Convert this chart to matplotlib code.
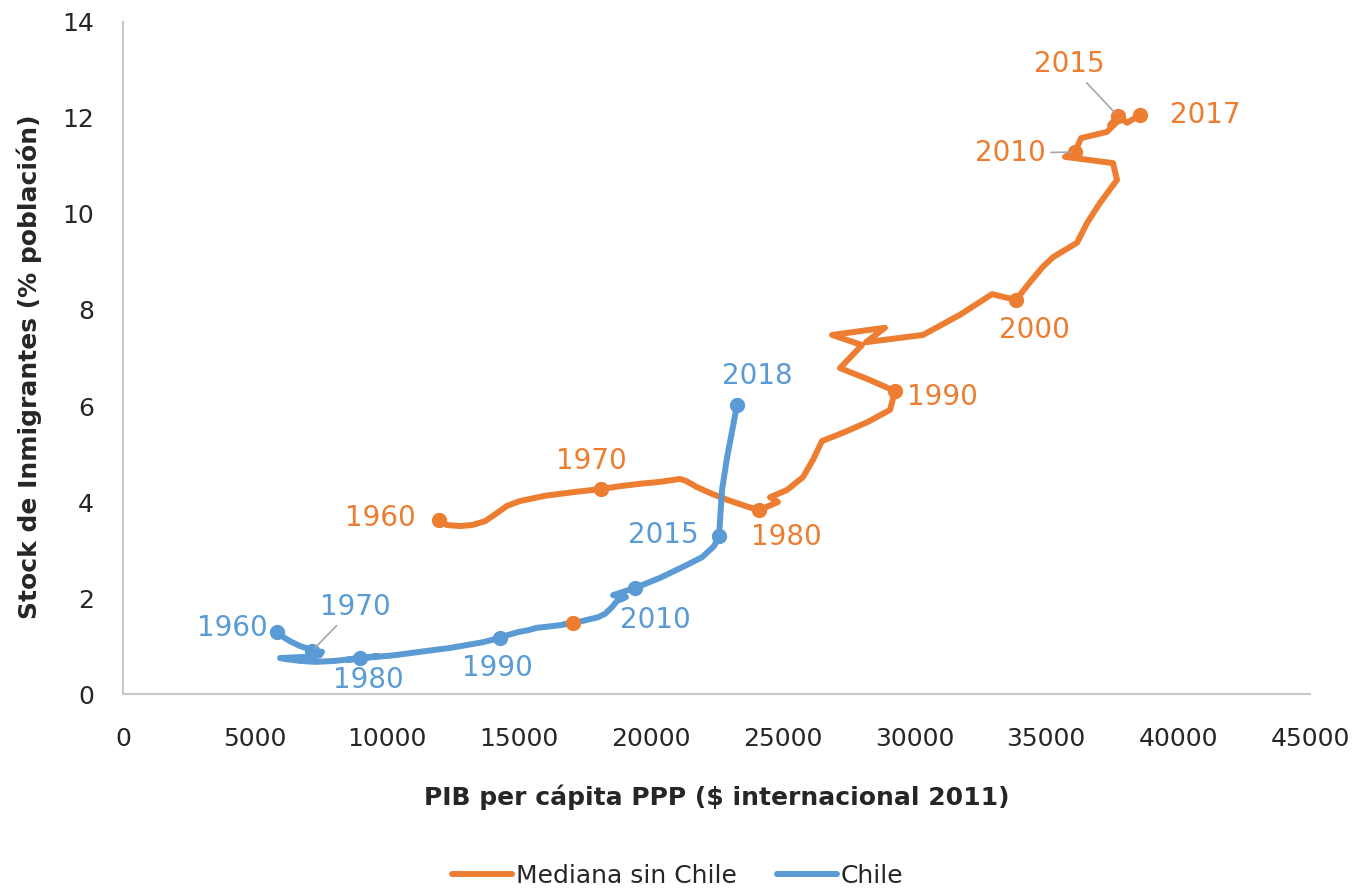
import matplotlib
matplotlib.use("Agg")
import matplotlib.pyplot as plt

# Mediana sin Chile, 1960-2017
med_years = list(range(1960, 2018))
med_gdp = [11980, 12283, 12776, 13231, 13723, 14178, 14557, 15050, 15998, 17135,
           18121, 18841, 19599, 20358, 21116, 21343, 21760, 22329, 22936, 23580,
           24111, 24831, 24528, 25172, 25779, 26158, 26499, 27371, 28243, 29077,
           29267, 28319, 27181, 28015, 26878, 28887, 28167, 30328, 31731, 32944,
           33854, 34384, 34839, 35256, 36166, 36545, 37038, 37683, 37531, 35711,
           36090, 36318, 37303, 37683, 37417, 37720, 38062, 38554]
med_stock = [3.63, 3.52, 3.50, 3.52, 3.60, 3.77, 3.92, 4.02, 4.13, 4.21,
             4.27, 4.33, 4.38, 4.42, 4.48, 4.44, 4.31, 4.17, 4.04, 3.92,
             3.83, 4.00, 4.10, 4.25, 4.52, 4.88, 5.27, 5.46, 5.67, 5.92,
             6.31, 6.54, 6.79, 7.27, 7.48, 7.63, 7.33, 7.48, 7.90, 8.33,
             8.21, 8.58, 8.88, 9.10, 9.40, 9.81, 10.23, 10.71, 11.06, 11.19,
             11.29, 11.58, 11.71, 11.92, 11.85, 12.04, 11.90, 12.06]

# Chile, 1960-2018
chl_years = list(range(1960, 2019))
chl_gdp = [5838, 6066, 6331, 6558, 6710, 6824, 6938, 7013, 7127, 7203,
           7165, 7544, 7468, 7013, 6710, 5952, 6141, 6710, 7279, 8037,
           8985, 9667, 8681, 8530, 9060, 9553, 10312, 11259, 12397, 13648,
           14292, 14595, 14974, 15354, 15695, 16036, 16339, 16642, 16832, 16756,
           17060, 17401, 17704, 18007, 18273, 18538, 18728, 18917, 19069, 18576,
           19410, 20358, 21305, 21950, 22405, 22594, 22708, 22898, 23277]
chl_stock = [1.29, 1.19, 1.10, 1.04, 1.00, 0.98, 0.96, 0.94, 0.92, 0.92,
             0.90, 0.88, 0.81, 0.77, 0.77, 0.75, 0.73, 0.69, 0.67, 0.69,
             0.75, 0.79, 0.73, 0.71, 0.75, 0.77, 0.81, 0.88, 0.96, 1.08,
             1.17, 1.23, 1.29, 1.33, 1.38, 1.40, 1.42, 1.44, 1.46, 1.46,
             1.48, 1.52, 1.56, 1.60, 1.67, 1.81, 1.94, 1.98, 2.02, 2.06,
             2.21, 2.42, 2.67, 2.85, 3.08, 3.29, 4.25, 4.92, 6.02]

# labelled years and label offsets (pixels)
med_marked = [1960, 1970, 1980, 1990, 2000, 2010, 2015, 2017]
med_offsets = [(-59, 2), (-10, 28), (27, -27), (47, -6), (18, -30), (-65, -1), (-49, 52), (65, 0)]
chl_marked = [1960, 1970, 1980, 1990, 2010, 2015, 2018]
chl_offsets = [(-45, 4), (43, 44), (8, -22), (-3, -30), (20, -32), (-56, 1), (20, 29)]
leader_years_med = [2010, 2015]
leader_years_chl = [1970]
extra_year = 2000  # Chile 2000 point drawn in orange

ORANGE = "#ED7D31"
BLUE = "#5B9BD5"

plt.rcParams["font.family"] = ["DejaVu Sans"]

fig = plt.figure(figsize=(13.55, 8.89), dpi=100)
ax = fig.add_axes([0.0908, 0.2193, 0.876, 0.756])

ax.plot(med_gdp, med_stock, color=ORANGE, lw=4.3, solid_joinstyle="round",
        solid_capstyle="round", label="Mediana sin Chile", zorder=2)
ax.plot(chl_gdp, chl_stock, color=BLUE, lw=4.3, solid_joinstyle="round",
        solid_capstyle="round", label="Chile", zorder=2)


def mark(years, xs, ys, marked, offsets, leaders, color):
    for yr, (dx, dy) in zip(marked, offsets):
        i = years.index(yr)
        ax.plot(xs[i], ys[i], "o", color=color, ms=10, zorder=3)
        arrow = None
        if yr in leaders:
            arrow = dict(arrowstyle="-", color="#A6A6A6", lw=1.2, shrinkA=2, shrinkB=3)
        ax.annotate(str(yr), (xs[i], ys[i]), xytext=(dx, dy), textcoords="offset pixels",
                    ha="center", va="center", color=color, fontsize=20,
                    arrowprops=arrow, zorder=4)


mark(med_years, med_gdp, med_stock, med_marked, med_offsets, leader_years_med, ORANGE)
mark(chl_years, chl_gdp, chl_stock, chl_marked, chl_offsets, leader_years_chl, BLUE)
i = chl_years.index(extra_year)
ax.plot(chl_gdp[i], chl_stock[i], "o", color=ORANGE, ms=10, zorder=3)

ax.set_xlim(0, 45000)
ax.set_ylim(0, 14)
ax.set_xticks(range(0, 45001, 5000))
ax.set_yticks(range(0, 15, 2))
ax.tick_params(length=0, labelsize=18, colors="#262626")
ax.tick_params(axis="x", pad=24)
ax.tick_params(axis="y", pad=21)
for s in ["top", "right"]:
    ax.spines[s].set_visible(False)
for s in ["left", "bottom"]:
    ax.spines[s].set_color("#C8C8C8")
    ax.spines[s].set_linewidth(1.5)

ax.set_xlabel("PIB per cápita PPP ($ internacional 2011)", fontsize=18,
              fontweight="bold", color="#262626", labelpad=24)
ax.set_ylabel("Stock de Inmigrantes (% población)", fontsize=18,
              fontweight="bold", color="#262626")
ax.yaxis.set_label_coords(-0.0685, 0.487)

fig.legend(loc="center", bbox_to_anchor=(0.5, 0.015), ncol=2, frameon=False,
           fontsize=18, handlelength=2.4, columnspacing=1.6, handletextpad=0.15,
           labelcolor="#262626")

fig.savefig("out.png", dpi=100)
